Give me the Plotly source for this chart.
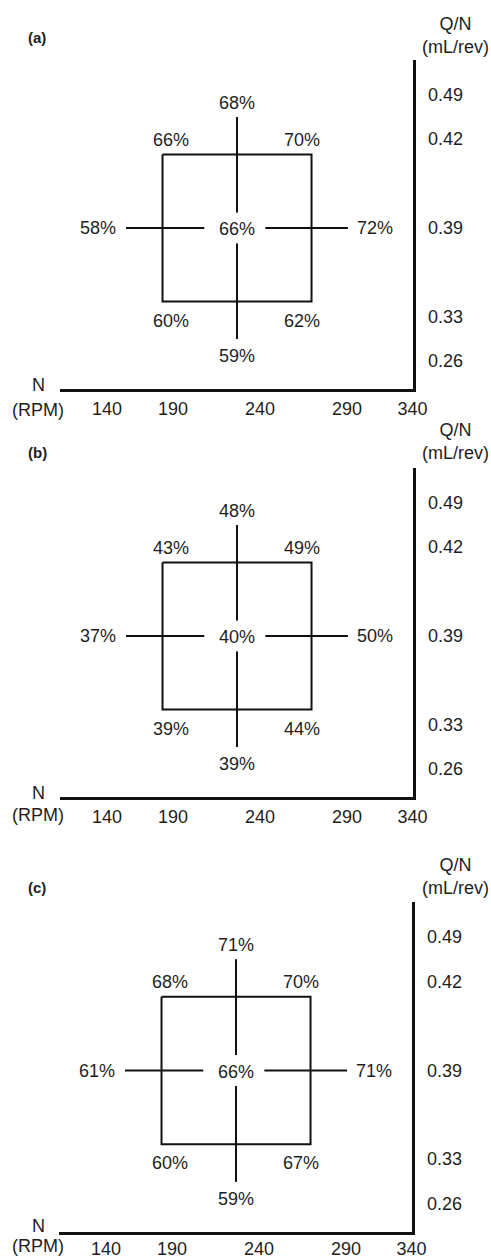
import plotly.graph_objects as go

# ---------------- data ----------------
N_levels = [140, 190, 240, 290, 340]            # N (RPM)
QN_levels = [0.26, 0.33, 0.39, 0.42, 0.49]      # Q/N (mL/rev)

# design points: centre, 4 factorial corners, 4 axial points
design_N = [240, 190, 290, 190, 290, 140, 340, 240, 240]
design_QN = [0.39, 0.42, 0.42, 0.33, 0.33, 0.39, 0.39, 0.49, 0.26]
point_type = ["center", "corner", "corner", "corner", "corner",
              "axial", "axial", "axial", "axial"]

eff_a = [66, 66, 70, 60, 62, 58, 72, 68, 59]
eff_b = [40, 43, 49, 39, 44, 37, 50, 48, 39]
eff_c = [66, 68, 70, 60, 67, 61, 71, 71, 59]
panel_letters = ["(a)", "(b)", "(c)"]
panel_eff = [eff_a, eff_b, eff_c]

# ---------------- layout constants ----------------
W, H = 491, 1258
FONT = "Liberation Sans, Arial, Helvetica, sans-serif"
FS = 18
TXT = "#1e1e1e"
LINE = "#111111"
X_CODED = [-1.49, -1.0, 0.0, 1.0, 1.49]      # schematic position of each N level
Y_CODED = [-1.51, -1.0, 0.0, 1.0, 1.51]      # schematic position of each Q/N level
X_TICK_POS = [-1.745, -0.859, 0.309, 1.477, 2.355]
Y_TICK_POS = [-1.81, -1.20, 0.0, 1.21, 1.81]
X_RANGE = [-2.376, 2.362]
Y_RANGE = [-2.190, 2.286]
GAP_L, GAP_R, GAP_Y = 0.44, 0.38, 0.21       # gap of the cross around centre label

PANELS = [
    dict(x0=60, x1=413, top=60, bot=389, letter_y=37, title_y=36, n_y=385, rpm_y=410, xstand=2),
    dict(x0=60, x1=413, top=468, bot=797, letter_y=452, title_y=441, n_y=793, rpm_y=815, xstand=2),
    dict(x0=59, x1=412, top=902, bot=1232, letter_y=887, title_y=876, n_y=1226, rpm_y=1246, xstand=-1),
]


def px(x):
    return x / W


def py(y):
    return 1 - y / H


def cx(n):
    return X_CODED[N_levels.index(n)]


def cy(q):
    return Y_CODED[QN_levels.index(q)]


fig = go.Figure()
annotations = []

for i, (p, eff, letter) in enumerate(zip(PANELS, panel_eff, panel_letters)):
    k = "" if i == 0 else str(i + 1)
    xr, yr = "x" + k, "y" + k

    c_idx = point_type.index("center")
    n0, q0 = design_N[c_idx], design_QN[c_idx]
    corners = [(n, q) for n, q, t in zip(design_N, design_QN, point_type) if t == "corner"]
    nlo = min(c[0] for c in corners); nhi = max(c[0] for c in corners)
    qlo = min(c[1] for c in corners); qhi = max(c[1] for c in corners)

    # square through the factorial points
    sq = [(nlo, qhi), (nhi, qhi), (nhi, qlo), (nlo, qlo), (nlo, qhi)]
    fig.add_trace(go.Scatter(
        x=[cx(n) for n, _ in sq], y=[cy(q) for _, q in sq],
        mode="lines", line=dict(color=LINE, width=2), hoverinfo="skip",
        showlegend=False, xaxis=xr, yaxis=yr))

    # cross through axial points, interrupted around centre label
    axial = [(n, q) for n, q, t in zip(design_N, design_QN, point_type) if t == "axial"]
    hx = sorted(cx(n) for n, q in axial if q == q0)
    vy = sorted(cy(q) for n, q in axial if n == n0)
    xs = [hx[0], cx(n0) - GAP_L, None, cx(n0) + GAP_R, hx[1], None,
          cx(n0), cx(n0), None, cx(n0), cx(n0)]
    ys = [cy(q0), cy(q0), None, cy(q0), cy(q0), None,
          vy[0], cy(q0) - GAP_Y, None, cy(q0) + GAP_Y, vy[1]]
    fig.add_trace(go.Scatter(
        x=xs, y=ys, mode="lines", line=dict(color=LINE, width=2),
        hoverinfo="skip", showlegend=False, xaxis=xr, yaxis=yr))

    # value labels
    for n, q, t, v in zip(design_N, design_QN, point_type, eff):
        a = dict(x=cx(n), y=cy(q), xref=xr, yref=yr, text=f"{v}%", showarrow=False,
                 font=dict(family=FONT, size=FS, color=TXT),
                 xanchor="center", yanchor="middle", xshift=0, yshift=0)
        if t == "center":
            a["yshift"] = -1
        elif t == "corner":
            a["yshift"] = 15 if q == qhi else -19
            a["xshift"] = 8 if n == nlo else -10
        else:
            if n < n0:
                a.update(xanchor="right", xshift=-8)
            elif n > n0:
                a.update(xanchor="left", xshift=7)
            elif q > q0:
                a["yshift"] = 14
            else:
                a["yshift"] = -17
        annotations.append(a)

    # axes
    dom_x = [px(p["x0"]), px(p["x1"])]
    dom_y = [py(p["bot"]), py(p["top"])]
    fig.layout["xaxis" + k] = dict(
        domain=dom_x, range=X_RANGE, anchor=yr, showline=True, linewidth=2.5,
        linecolor=LINE, showgrid=False, zeroline=False, ticks="", automargin=False,
        tickvals=X_TICK_POS, ticktext=[str(n) for n in N_levels],
        tickfont=dict(family=FONT, size=FS, color=TXT), ticklabelstandoff=p["xstand"],
        fixedrange=True)
    fig.layout["yaxis" + k] = dict(
        domain=dom_y, range=Y_RANGE, anchor=xr, side="right", showline=True,
        linewidth=2.5, linecolor=LINE, showgrid=False, zeroline=False, ticks="",
        automargin=False,
        tickvals=Y_TICK_POS, ticktext=[f"{q:.2f}" for q in QN_levels],
        tickfont=dict(family=FONT, size=FS, color=TXT), ticklabelstandoff=9,
        fixedrange=True)

    # titles and panel letter
    annotations.append(dict(x=px(455), y=py(p["title_y"]), xref="paper", yref="paper",
                            text="Q/N<br>(mL/rev)", showarrow=False, xanchor="center",
                            yanchor="middle", font=dict(family=FONT, size=FS, color=TXT)))
    annotations.append(dict(x=px(38), y=py(p["n_y"]), xref="paper", yref="paper",
                            text="N", showarrow=False, xanchor="center", yanchor="middle",
                            font=dict(family=FONT, size=FS, color=TXT)))
    annotations.append(dict(x=px(38), y=py(p["rpm_y"]), xref="paper", yref="paper",
                            text="(RPM)", showarrow=False, xanchor="center", yanchor="middle",
                            font=dict(family=FONT, size=FS, color=TXT)))
    annotations.append(dict(x=px(37), y=py(p["letter_y"]), xref="paper", yref="paper",
                            text=f"<b>{letter}</b>", showarrow=False, xanchor="center",
                            yanchor="middle", font=dict(family=FONT, size=15, color=TXT)))

fig.update_layout(
    width=W, height=H, autosize=False, margin=dict(l=0, r=0, t=0, b=0, autoexpand=False),
    paper_bgcolor="white", plot_bgcolor="white",
    annotations=annotations, showlegend=False,
)

fig.write_html(
    "out.html",
    config={"responsive": False, "displayModeBar": False, "staticPlot": True},
    post_script=("document.documentElement.style.overflow='hidden';"
                 "document.body.style.overflow='hidden';"
                 "document.body.style.margin='0px';document.body.style.padding='0px';"),
)
